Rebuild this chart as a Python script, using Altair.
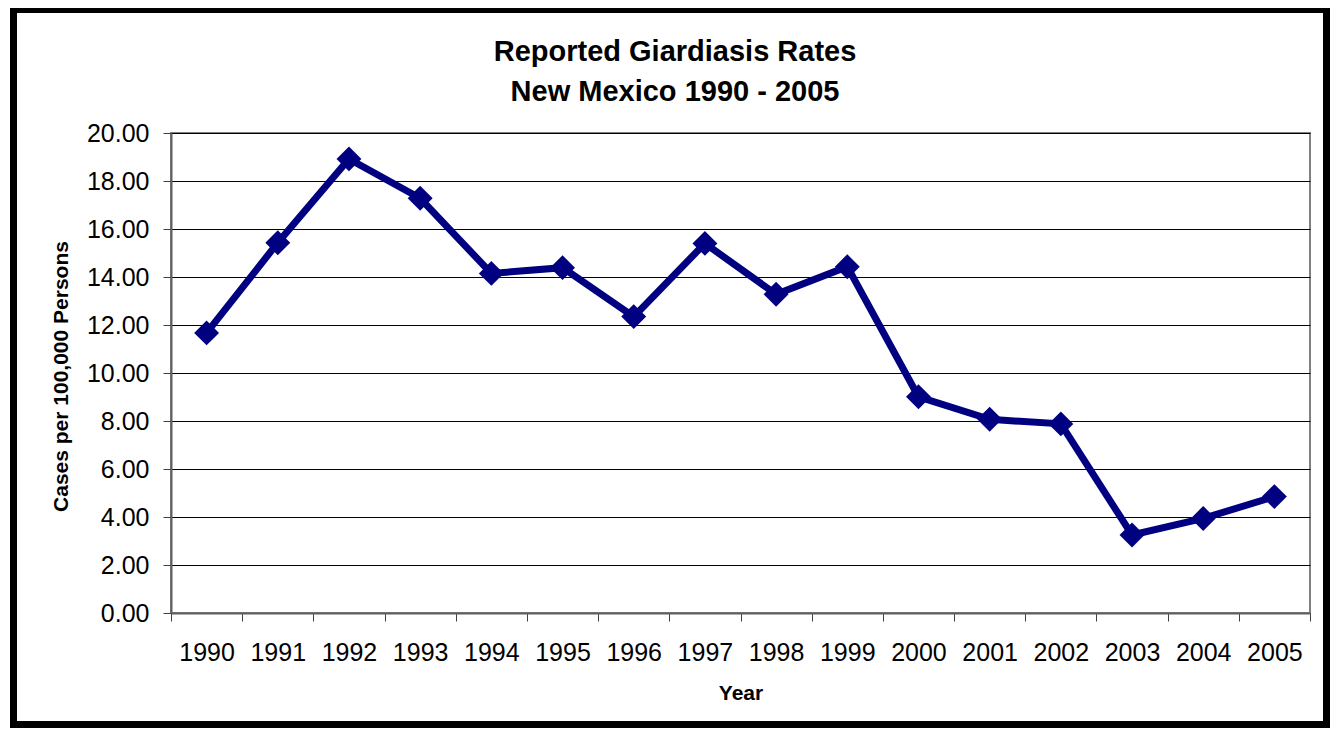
import altair as alt
import pandas as pd

YEARS = [1990, 1991, 1992, 1993, 1994, 1995, 1996, 1997,
         1998, 1999, 2000, 2001, 2002, 2003, 2004, 2005]
RATES = [11.67, 15.43, 18.92, 17.28, 14.15, 14.39, 12.35, 15.40,
         13.28, 14.43, 9.01, 8.07, 7.88, 3.25, 3.94, 4.85]
Y_TICKS = [0, 2, 4, 6, 8, 10, 12, 14, 16, 18, 20]
TITLE_LINES = ["Reported Giardiasis Rates", "New Mexico 1990 - 2005"]
X_TITLE = "Year"
Y_TITLE = "Cases per 100,000 Persons"

FONT = "Liberation Sans"
NAVY = "#000080"

df = pd.DataFrame({"Year": YEARS, "Rate": RATES})

W, H = 1139, 480

x_enc = alt.X(
    "Year:O",
    scale=alt.Scale(type="band", paddingInner=0, paddingOuter=0),
    bandPosition=0.5,
    axis=alt.Axis(
        title=X_TITLE, labelAngle=0, tickBand="extent", tickSize=8,
        tickColor="#404040", labelPadding=39, labelBaseline="alphabetic",
        labelFont=FONT, labelFontSize=25, labelColor="black",
        domainColor="#606060", domainWidth=2, grid=False,
        titleFont=FONT, titleFontSize=21, titleFontWeight="bold",
        titleColor="black", titleX=W / 2, titleY=86,
        titleBaseline="alphabetic", titleAlign="center",
    ),
)
y_enc = alt.Y(
    "Rate:Q",
    scale=alt.Scale(domain=[0, 20], nice=False),
    axis=alt.Axis(
        values=Y_TICKS, format=".2f", title=Y_TITLE,
        tickSize=8, tickColor="#404040", labelPadding=14,
        labelFont=FONT, labelFontSize=25, labelColor="black",
        domainColor="#606060", domainWidth=2,
        grid=True, gridColor="black", gridWidth=1,
        titleFont=FONT, titleFontSize=21, titleFontWeight="bold",
        titleColor="black", titleAngle=270, titleAlign="center",
        titleBaseline="alphabetic", titleX=-104, titleY=243,
    ),
)

base = alt.Chart(df)
line = base.mark_line(color=NAVY, strokeWidth=7, strokeJoin="miter").encode(x=x_enc, y=y_enc)
pts = base.mark_point(shape="diamond", filled=True, size=620, color=NAVY, opacity=1).encode(x=x_enc, y=y_enc)

t1 = alt.Chart(pd.DataFrame({"t": [TITLE_LINES[0]]})).mark_text(
    font=FONT, fontSize=29, fontWeight="bold", color="black",
    align="center", baseline="alphabetic",
).encode(text="t:N", x=alt.value(504), y=alt.value(-72.5))
t2 = alt.Chart(pd.DataFrame({"t": [TITLE_LINES[1]]})).mark_text(
    font=FONT, fontSize=29, fontWeight="bold", color="black",
    align="center", baseline="alphabetic",
).encode(text="t:N", x=alt.value(504), y=alt.value(-32.5))

frame = alt.Chart(pd.DataFrame({"f": [0]})).mark_rect(
    fillOpacity=0, stroke="black", strokeWidth=7
).encode(
    x=alt.value(-157.5), x2=alt.value(1155.5),
    y=alt.value(-123.5), y2=alt.value(591.5),
)

chart = alt.layer(line, pts, t1, t2, frame).properties(
    width=W, height=H,
    autosize=alt.AutoSizeParams(type="none"),
    padding={"left": 163, "top": 125, "right": 20, "bottom": 115},
    background="white",
).configure_view(stroke="#808080", strokeWidth=2)

chart.save("out.html", embed_options={"renderer": "svg", "actions": False})
